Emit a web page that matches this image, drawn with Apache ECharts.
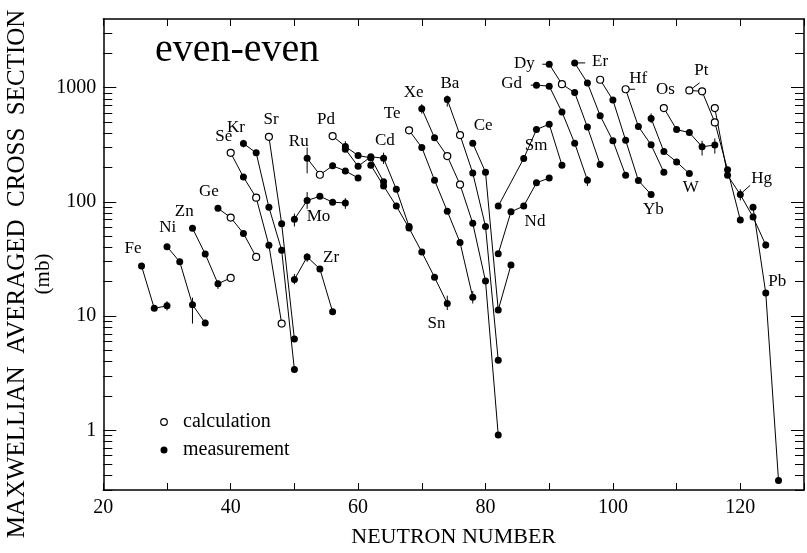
<!DOCTYPE html>
<html><head><meta charset="utf-8">
<script src="https://cdn.jsdelivr.net/npm/echarts@6/dist/echarts.min.js"></script>
<style>html,body{margin:0;padding:0;background:#fff}#c{width:807px;height:553px}</style>
</head><body><div id="c"></div>
<script>
// Isotope chains: [neutron number, MACS (mb), type]  m = measurement, c = calculation
const Fe = [[26,27.5,'m'],[28,11.7,'m'],[30,12.3,'m']];
const Ni = [[30,40.6,'m'],[32,29.9,'m'],[34,12.6,'m'],[36,8.7,'m']];
const Zn = [[34,58.9,'m'],[36,35.0,'m'],[38,19.2,'m'],[40,21.6,'c']];
const Ge = [[38,87.9,'m'],[40,73,'c'],[42,53,'m'],[44,33,'c']];
const Se = [[40,269,'c'],[42,165,'m'],[44,109,'c'],[46,41.7,'m'],[48,8.6,'c']];
const Kr = [[42,325,'m'],[44,269,'m'],[46,89.7,'m'],[48,37.8,'m'],[50,3.4,'m']];
const Sr = [[46,372,'c'],[48,64.4,'m'],[50,6.3,'m']];
const Zr = [[50,20.9,'m'],[52,33,'m'],[54,25.9,'m'],[56,10.9,'m']];
const Mo = [[50,70.5,'m'],[52,103,'m'],[54,112,'m'],[56,99.6,'m'],[58,97.7,'m']];
const Ru = [[52,241,'m'],[54,173,'c'],[56,207,'m'],[58,187,'m'],[60,162,'m']];
const Pd = [[56,377,'c'],[58,306,'m'],[60,255,'m'],[62,243,'m'],[64,150,'m']];
const Cd = [[58,290,'m'],[60,205,'m'],[62,249,'m'],[64,241,'m'],[66,129,'m'],[68,61,'m']];
const Sn = [[62,210,'m'],[64,138,'m'],[66,92,'m'],[68,59,'m'],[70,36.4,'m'],[72,21.9,'m'],[74,12.9,'m']];
const Te = [[68,424,'c'],[70,300,'m'],[72,155,'m'],[74,83,'m'],[76,44.2,'m'],[78,14.6,'m']];
const Xe = [[70,655,'m'],[72,365,'m'],[74,252,'c'],[76,142,'c'],[78,65,'m'],[80,20.3,'m'],[82,0.91,'m']];
const Ba = [[74,788,'m'],[76,385,'c'],[78,179,'m'],[80,61,'m'],[82,4.1,'m']];
const Ce = [[78,327,'m'],[80,182,'m'],[82,11.3,'m'],[84,28,'m']];
const Nd = [[82,35.2,'m'],[84,82,'m'],[86,92,'m'],[88,147,'m'],[90,162,'m']];
const Sm = [[82,92,'m'],[86,240,'m'],[88,430,'m'],[90,480,'m'],[92,210,'m']];
const Gd = [[88,1054,'m'],[90,1033,'m'],[92,614,'m'],[94,327,'m'],[96,155,'m']];
const Dy = [[90,1610,'m'],[92,1074,'c'],[94,907,'m'],[96,452,'m'],[98,213,'m']];
const Er = [[94,1650,'m'],[96,1102,'m'],[98,569,'m'],[100,343,'m'],[102,171,'m']];
const Yb = [[98,1175,'c'],[100,781,'m'],[102,347,'m'],[104,154,'m'],[106,116,'m']];
const Hf = [[102,970,'c'],[104,458,'m'],[106,316,'m'],[108,182,'m']];
const W  = [[106,539,'m'],[108,276,'m'],[110,224,'m'],[112,177,'m']];
const Os = [[108,664,'c'],[110,430,'m'],[112,405,'m'],[114,304,'m'],[116,315,'m']];
const Pt = [[112,948,'c'],[114,930,'c'],[116,497,'c'],[118,191,'m'],[120,69.6,'m']];
const Hg = [[116,664,'c'],[118,171,'m'],[120,116,'m'],[122,73.8,'m'],[124,41.9,'m']];
const Pb = [[122,89.8,'m'],[124,15.9,'m'],[126,0.363,'m']];

// Error bars
const errN  = [30, 34, 36, 38, 42, 50, 52, 50, 52, 58, 52, 58, 64, 74, 78, 70, 72, 74, 96, 106, 114, 116, 120, 124];
const errLo = [11.2, 8.6, 8.2, 17.3, 300, 19, 29.9, 61, 87, 87, 178, 280, 215, 11.3, 12.9, 594, 345, 683, 138, 490, 255, 265, 103, 39];
const errHi = [13.5, 14.5, 9.3, 20.5, 350, 23.4, 35.5, 79, 122, 108, 300, 340, 270, 15.1, 16.6, 718, 385, 854, 168, 595, 343, 360, 129, 45];

// Axis ticks
const xLabels = [20, 40, 60, 80, 100, 120];
const yMajor = [1, 10, 100, 1000];
const yMinorMult = [2, 3, 4, 5, 6, 7, 8, 9];

// Element name annotations [text, N, MACS]
const elementLabels = [
  ['Fe',24.66,38.8],['Ni',30.1,59.2],['Zn',32.7,82],['Ge',36.58,123],['Se',38.92,372],['Kr',40.83,452],
  ['Sr',46.33,528],['Ru',50.68,336],['Pd',54.97,528],['Mo',53.79,74.3],['Zr',55.75,32.3],['Te',65.34,594],
  ['Cd',64.2,342],['Sn',72.3,8.6],['Xe',68.71,907],['Ba',74.4,1081],['Ce',79.64,465],['Sm',87.95,313],
  ['Nd',87.77,66.8],['Gd',84.1,1092],['Dy',86.09,1644],['Er',97.98,1683],['Hf',103.96,1199],['Os',108.23,962],
  ['Yb',106.37,86.1],['W',112.23,133],['Pt',113.88,1429],['Hg',123.36,159],['Pb',125.8,19.9]
];
// Label leader lines [N1, v1, N2, v2]
const leaders = [[88.92,1607,90.2,1607],[87.1,1054,88.0,1054],[94.2,1650,95.65,1650],[102.3,970,103.5,970],
  [112.6,1002,113.6,1102],[120.4,122.5,121.55,139.6]];

const FONT = "'Liberation Serif','Times New Roman',serif";
const chains = {Fe,Ni,Zn,Ge,Se,Kr,Sr,Zr,Mo,Ru,Pd,Cd,Sn,Te,Xe,Ba,Ce,Nd,Sm,Gd,Dy,Er,Yb,Hf,W,Os,Pt,Hg,Pb};

const yMinor = [];
[0.1, 1, 10, 100, 1000].forEach(d => yMinorMult.forEach(m => {
  const v = +(d * m).toPrecision(3);
  if (v >= 0.3 && v < 4000) yMinor.push(v);
}));

const series = [];
Object.keys(chains).forEach(name => {
  series.push({
    type: 'line', name, xAxisIndex: 0, yAxisIndex: 0, z: 3,
    symbol: 'circle', symbolSize: 7, showSymbol: true,
    lineStyle: {color: '#000', width: 1},
    data: chains[name].map(p => ({
      value: [p[0], p[1]],
      itemStyle: p[2] === 'c' ? {color: '#fff', borderColor: '#000', borderWidth: 1.2} : {color: '#000', borderColor: '#000', borderWidth: 0}
    })),
    emphasis: {disabled: true}, silent: true, animation: false
  });
});
series.push({
  type: 'custom', xAxisIndex: 0, yAxisIndex: 0, z: 2, silent: true, animation: false,
  data: errN.map((n, i) => [n, errLo[i], errHi[i]]),
  renderItem: (params, api) => {
    const a = api.coord([api.value(0), api.value(1)]);
    const b = api.coord([api.value(0), api.value(2)]);
    return {type: 'line', shape: {x1: a[0], y1: a[1], x2: b[0], y2: b[1]}, style: {stroke: '#000', lineWidth: 1}};
  }
});
series.push({
  type: 'custom', xAxisIndex: 0, yAxisIndex: 0, z: 2, silent: true, animation: false,
  data: leaders,
  renderItem: (params, api) => {
    const a = api.coord([api.value(0), api.value(1)]);
    const b = api.coord([api.value(2), api.value(3)]);
    return {type: 'line', shape: {x1: a[0], y1: a[1], x2: b[0], y2: b[1]}, style: {stroke: '#000', lineWidth: 1}};
  }
});
series.push({
  type: 'custom', xAxisIndex: 0, yAxisIndex: 0, z: 4, silent: true, animation: false,
  data: elementLabels.map(l => [l[1], l[2]]),
  renderItem: (params, api) => {
    const p = api.coord([api.value(0), api.value(1)]);
    return {type: 'text', x: p[0], y: p[1],
      style: {text: elementLabels[params.dataIndex][0], font: '17px ' + FONT, fill: '#000', align: 'center', verticalAlign: 'middle'}};
  }
});

const axLine = {show: true, onZero: false, lineStyle: {color: '#000', width: 1.5}};
const yBase = {type: 'log', min: 0.3, max: 4000, logBase: 10, splitLine: {show: false}};
const chart = echarts.init(document.getElementById('c'), null, {renderer: 'canvas'});
chart.setOption({
  animation: false,
  backgroundColor: '#fff',
  grid: {left: 103.3, top: 19, width: 707.7, height: 486, containLabel: false},
  xAxis: [
    {type: 'value', min: 20, max: 130, interval: 10, position: 'bottom', axisLine: axLine,
     axisTick: {inside: true, length: 7, lineStyle: {color: '#000', width: 1}},
     axisLabel: {fontSize: 20, fontFamily: FONT, color: '#000', margin: 8,
       formatter: v => xLabels.indexOf(v) >= 0 ? String(v) : ''},
     splitLine: {show: false},
     name: 'NEUTRON NUMBER', nameLocation: 'middle', nameGap: 36,
     nameTextStyle: {fontSize: 22, fontFamily: FONT, color: '#000'}},
    {type: 'value', min: 20, max: 130, interval: 10, position: 'top', axisLine: axLine,
     axisTick: {inside: true, length: 7, lineStyle: {color: '#000', width: 1}},
     axisLabel: {show: false}, splitLine: {show: false}}
  ],
  yAxis: [
    Object.assign({}, yBase, {position: 'left', axisLine: axLine,
      axisTick: {inside: true, length: 13, customValues: yMajor, lineStyle: {color: '#000', width: 1}},
      axisLabel: {customValues: yMajor, fontSize: 20, fontFamily: FONT, color: '#000', margin: 7, formatter: v => String(v)}}),
    Object.assign({}, yBase, {position: 'left', axisLine: {show: false},
      axisTick: {inside: true, length: 9, customValues: yMinor, lineStyle: {color: '#000', width: 1}},
      axisLabel: {show: false}}),
    Object.assign({}, yBase, {position: 'right', axisLine: axLine,
      axisTick: {inside: true, length: 13, customValues: yMajor, lineStyle: {color: '#000', width: 1}},
      axisLabel: {show: false}}),
    Object.assign({}, yBase, {position: 'right', axisLine: {show: false},
      axisTick: {inside: true, length: 9, customValues: yMinor, lineStyle: {color: '#000', width: 1}},
      axisLabel: {show: false}})
  ],
  graphic: [
    {type: 'text', x: 17, y: 274, rotation: Math.PI / 2, silent: true,
     style: {text: 'MAXWELLIAN  AVERAGED  CROSS  SECTION', font: '25px ' + FONT, fill: '#000', align: 'center', verticalAlign: 'middle'}},
    {type: 'text', x: 43, y: 274, rotation: Math.PI / 2, silent: true,
     style: {text: '(mb)', font: '21px ' + FONT, fill: '#000', align: 'center', verticalAlign: 'middle'}},
    {type: 'text', x: 155, y: 50, silent: true,
     style: {text: 'even-even', font: '40px ' + FONT, fill: '#000', align: 'left', verticalAlign: 'middle'}},
    {type: 'circle', shape: {cx: 164, cy: 422, r: 3.3}, silent: true, style: {fill: '#fff', stroke: '#000', lineWidth: 1.2}},
    {type: 'text', x: 183, y: 422, silent: true,
     style: {text: 'calculation', font: '20px ' + FONT, fill: '#000', align: 'left', verticalAlign: 'middle'}},
    {type: 'circle', shape: {cx: 164, cy: 450, r: 3.5}, silent: true, style: {fill: '#000', stroke: '#000', lineWidth: 0}},
    {type: 'text', x: 183, y: 450, silent: true,
     style: {text: 'measurement', font: '20px ' + FONT, fill: '#000', align: 'left', verticalAlign: 'middle'}}
  ],
  series
});
</script></body></html>
